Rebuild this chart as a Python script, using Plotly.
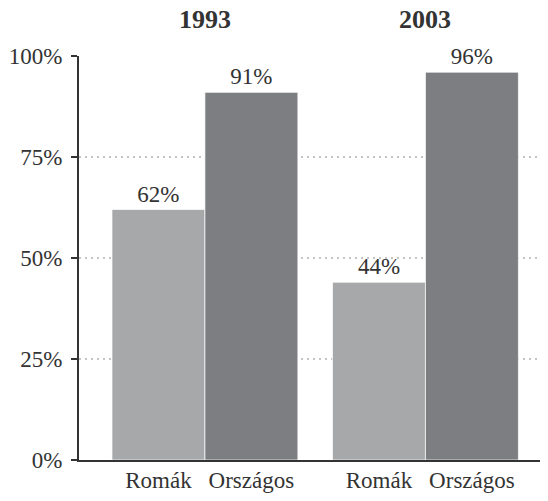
import plotly.graph_objects as go

years = ["1993", "2003"]
series_names = ["Romák", "Országos"]
romak = [62, 44]
orszagos = [91, 96]
y_ticks = [0, 25, 50, 75, 100]
y_tick_labels = ["0%", "25%", "50%", "75%", "100%"]
colors = ["#a7a8aa", "#7d7e81"]

FONT = "Liberation Serif, Times New Roman, serif"
TXT = "#333333"
bargap = 0.157

fig = go.Figure()
for name, vals, col in zip(series_names, [romak, orszagos], colors):
    fig.add_trace(go.Bar(
        x=years, y=vals, name=name,
        marker=dict(color=col, line=dict(color="rgba(255,255,255,0.7)", width=1)),
        text=[f"{v}%" for v in vals], textposition="outside",
        textfont=dict(family=FONT, size=23, color=TXT),
        cliponaxis=False, xaxis="x", yaxis="y",
    ))

# secondary axis carrying the per-bar category labels
off = (1 - bargap) / 4
tickvals = []
ticktext = []
for i, _ in enumerate(years):
    tickvals += [i - off, i + off]
    ticktext += series_names

xr = [-0.571, 1.592]

fig.add_trace(go.Scatter(x=[0], y=[0], xaxis="x2", yaxis="y", mode="markers",
                         marker=dict(opacity=0), hoverinfo="skip", showlegend=False))

fig.update_layout(
    width=548, height=501,
    margin=dict(l=71, r=0, t=48, b=49),
    paper_bgcolor="white", plot_bgcolor="white",
    barmode="group", bargap=bargap, bargroupgap=0,
    showlegend=False,
    font=dict(family=FONT, size=23, color=TXT),
    xaxis=dict(type="category", range=xr, showticklabels=False, ticks="", showgrid=False,
               showline=True, linecolor="#333333", linewidth=2, zeroline=False),
    xaxis2=dict(overlaying="x", anchor="y", side="bottom", range=xr, type="linear",
                tickmode="array", tickvals=tickvals, ticktext=ticktext,
                showgrid=False, showline=False, zeroline=False, ticks="",
                ticklabelstandoff=4,
                tickfont=dict(family=FONT, size=23, color=TXT)),
    yaxis=dict(range=[0, 100], tickmode="array", tickvals=y_ticks, ticktext=y_tick_labels,
               showgrid=True, gridcolor="#c4c4c4", gridwidth=2, griddash="2px,4px",
               showline=True, linecolor="#333333", linewidth=2, zeroline=False,
               ticks="outside", ticklen=6, tickwidth=2, tickcolor="#333333",
               ticklabelstandoff=4,
               tickfont=dict(family=FONT, size=23, color=TXT)),
)

for i, yr in enumerate(years):
    fig.add_annotation(x=i, xref="x", y=1, yref="paper", yanchor="middle", yshift=37,
                       text=f"<b>{yr}</b>", showarrow=False,
                       font=dict(family=FONT, size=26, color=TXT))

fig.write_html("out.html")
